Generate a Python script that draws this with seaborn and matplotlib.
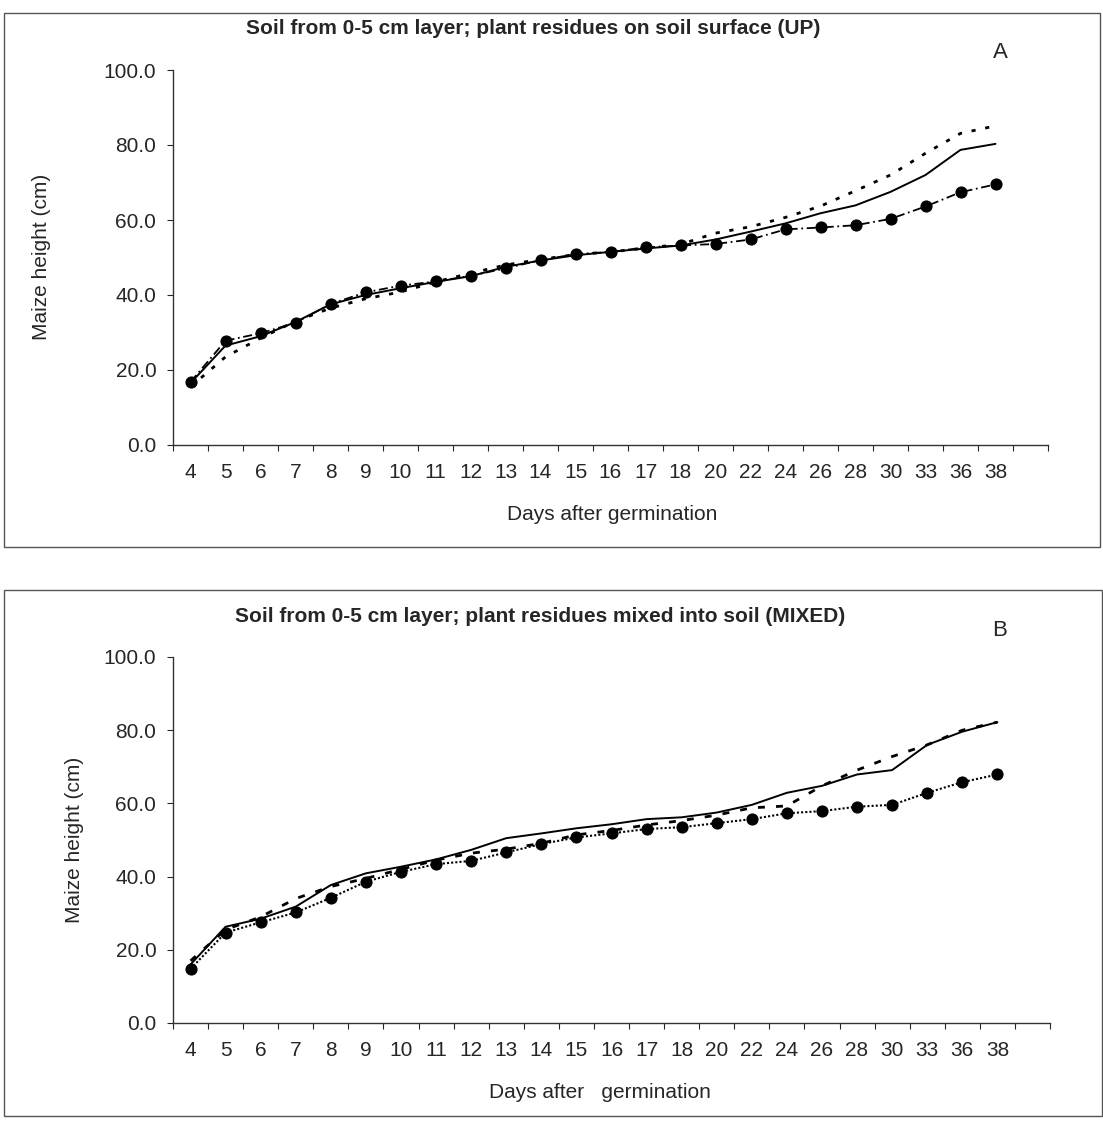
import numpy as np
import pandas as pd
import matplotlib.pyplot as plt
import seaborn as sns
from matplotlib.patches import Rectangle
from matplotlib.ticker import FixedLocator, NullFormatter

# ---- data ----
days = ["4", "5", "6", "7", "8", "9", "10", "11", "12", "13", "14", "15",
        "16", "17", "18", "20", "22", "24", "26", "28", "30", "33", "36", "38"]

# panel A: residues on soil surface (UP)
up_solid = [16.5, 26.5, 29.0, 32.8, 37.5, 40.0, 41.8, 43.5, 45.0, 47.5, 49.2, 50.6,
            51.5, 52.4, 53.2, 54.8, 56.9, 59.1, 61.8, 63.9, 67.5, 72.0, 78.7, 80.3]
up_dotted = [15.5, 23.5, 28.5, 33.0, 36.5, 39.0, 40.8, 43.5, 45.8, 48.0, 49.5, 50.8,
             51.5, 52.5, 53.5, 56.5, 58.2, 60.7, 63.7, 67.8, 72.0, 77.8, 83.1, 85.1]
up_circles = [16.8, 27.8, 29.8, 32.6, 37.6, 40.7, 42.5, 43.6, 45.1, 47.1, 49.3, 50.9,
              51.5, 52.7, 53.2, 53.6, 54.8, 57.5, 58.0, 58.6, 60.3, 63.6, 67.4, 69.5]

# panel B: residues mixed into soil (MIXED)
mixed_solid = [16.0, 26.3, 28.5, 31.8, 37.7, 40.9, 42.7, 44.7, 47.3, 50.5, 51.8, 53.2,
               54.3, 55.7, 56.2, 57.5, 59.6, 62.9, 64.8, 67.9, 69.1, 76.0, 79.6, 82.2]
mixed_dashed = [17.0, 25.5, 29.0, 34.0, 37.3, 39.5, 42.0, 44.5, 46.4, 47.5, 49.1, 51.4,
                52.6, 54.1, 55.3, 56.8, 58.8, 59.3, 64.8, 69.1, 72.8, 76.0, 80.0, 82.2]
mixed_circles = [14.8, 24.7, 27.5, 30.2, 34.2, 38.6, 41.3, 43.4, 44.3, 46.6, 48.9, 50.7,
                 51.8, 53.0, 53.5, 54.6, 55.7, 57.3, 57.9, 59.1, 59.6, 62.9, 65.8, 67.9]

y_ticks = [0, 20, 40, 60, 80, 100]

# ---- style ----
sns.set_style("ticks")
plt.rcParams['font.family'] = ['Liberation Sans', 'DejaVu Sans']
FS = 15

W, H = 1103, 1121
fig = plt.figure(figsize=(W / 100, H / 100), dpi=100)


def px_axes(left, right, top, bottom):
    return fig.add_axes([left / W, 1 - bottom / H, (right - left) / W, (bottom - top) / H])


def draw_panel(ax, series):
    for vals, ls, lw, mk in series:
        sns.lineplot(x=days, y=vals, ax=ax, color="black", linestyle=ls, linewidth=lw,
                     marker=mk, markersize=8 if mk else 0, markeredgecolor="black",
                     sort=False, errorbar=None)
    ax.set_xlim(-0.5, len(days) + 0.5)
    ax.set_ylim(0, 100)
    sns.despine(ax=ax)
    ax.spines[["left", "bottom"]].set_linewidth(1.0)
    ax.spines[["left", "bottom"]].set_color("#333333")
    # category boundaries get tick marks, labels sit between them
    ax.xaxis.set_major_locator(FixedLocator(np.arange(-0.5, len(days) + 1, 1.0)))
    ax.xaxis.set_major_formatter(NullFormatter())
    ax.set_xticks(np.arange(len(days)), days, minor=True)
    ax.tick_params(axis="x", which="major", length=4, width=0.8, direction="out")
    ax.tick_params(axis="x", which="minor", length=0, pad=13, labelsize=FS)
    ax.set_yticks(y_ticks, [f"{v:.1f}" for v in y_ticks])
    ax.tick_params(axis="y", length=4, width=0.8, pad=8, labelsize=FS)
    ax.set_xlabel("")
    ax.set_ylabel("")


# ---- panel A ----
ax_a = px_axes(173, 1048, 70, 445)
draw_panel(ax_a, [
    (up_solid, "-", 1.4, None),
    (up_dotted, (0, (1.5, 3.5)), 2.0, None),
    (up_circles, (0, (5, 2, 1, 2)), 1.3, "o"),
])

# ---- panel B ----
ax_b = px_axes(173, 1050, 657, 1023)
draw_panel(ax_b, [
    (mixed_solid, "-", 1.4, None),
    (mixed_dashed, (0, (2.5, 4)), 2.0, None),
    (mixed_circles, (0, (1, 1)), 1.5, "o"),
])

# ---- texts ----
title_font = dict(fontsize=15, fontweight="bold", ha="center", va="center")
fig.text(533 / W, 1 - 28 / H, "Soil from 0-5 cm layer; plant residues on soil surface (UP)", **title_font)
fig.text(540 / W, 1 - 617 / H, "Soil from 0-5 cm layer; plant residues mixed into soil (MIXED)", **title_font)
fig.text(1000 / W, 1 - 53 / H, "A", fontsize=16, ha="center", va="center")
fig.text(1000 / W, 1 - 630 / H, "B", fontsize=16, ha="center", va="center")

fig.text(42 / W, 1 - 257 / H, "Maize height (cm)", rotation=90, fontsize=FS, ha="center", va="center")
fig.text(75 / W, 1 - 840 / H, "Maize height (cm)", rotation=90, fontsize=FS, ha="center", va="center")
fig.text(612 / W, 1 - 515 / H, "Days after germination", fontsize=FS, ha="center", va="center")
fig.text(600 / W, 1 - 1093 / H, "Days after   germination", fontsize=FS, ha="center", va="center")

# ---- frames around each panel ----
fig.add_artist(Rectangle((4 / W, 1 - 547 / H), 1096 / W, 534 / H, transform=fig.transFigure,
                         fill=False, lw=1.0, ec="#555555"))
fig.add_artist(Rectangle((4 / W, 1 - 1116 / H), 1098 / W, 526 / H, transform=fig.transFigure,
                         fill=False, lw=1.0, ec="#555555"))

fig.savefig("out.png", dpi=100)
